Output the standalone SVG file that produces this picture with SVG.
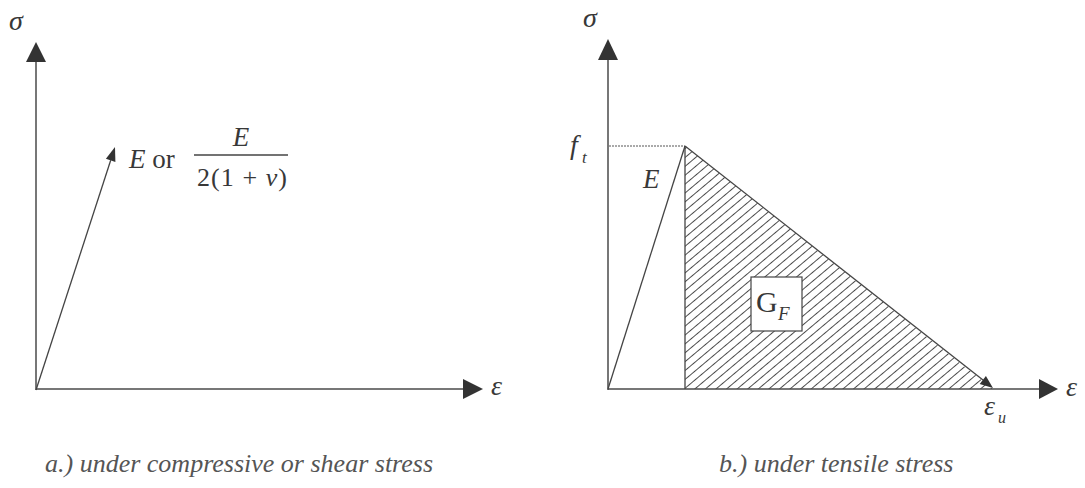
<svg xmlns="http://www.w3.org/2000/svg" width="1085" height="488" viewBox="0 0 1085 488">
  <defs>
    <style>
      .ax { stroke: #4a4a4a; stroke-width: 1.5; fill: none; }
      .ln { stroke: #444; stroke-width: 1.3; fill: none; }
      .hd { fill: #333; stroke: none; }
      text { font-family: 'Liberation Serif', 'Times New Roman', serif; fill: #383838; }
      .i { font-style: italic; }
      .cap { font-style: italic; font-size: 26px; fill: #555; }
    </style>
    <pattern id="hatch" patternUnits="userSpaceOnUse" width="6.8" height="10" patternTransform="rotate(50)">
      <line x1="3.4" y1="-1" x2="3.4" y2="11" stroke="#4a4a4a" stroke-width="1"/>
    </pattern>
    <clipPath id="tri">
      <polygon points="685,146 685,389 993,389"/>
    </clipPath>
  </defs>
  <rect width="1085" height="488" fill="#ffffff"/>

  <g id="connectors">
    <line class="ax" x1="36" y1="390" x2="36" y2="60"/>
    <polygon class="hd" points="36,42 26,62 46,62"/>
    <line class="ax" x1="36" y1="389" x2="465" y2="389"/>
    <polygon class="hd" points="483,389 463,379 463,399"/>
    <line class="ln" x1="36" y1="390" x2="110.7" y2="160.3"/>
    <polygon class="hd" points="115,147 115.4,161.9 105.9,158.8"/>

    <line class="ax" x1="608" y1="390" x2="608" y2="58"/>
    <polygon class="hd" points="608,39 598,60 618,60"/>
    <line class="ax" x1="608" y1="389" x2="1040" y2="389"/>
    <polygon class="hd" points="1058,389 1039,379 1039,399"/>
  </g>

  <g id="hatched-area">
    <rect x="685" y="146" width="310" height="244" fill="url(#hatch)" clip-path="url(#tri)"/>
  </g>

  <g id="tension-curve">
    <line x1="609" y1="146" x2="685" y2="146" stroke="#555" stroke-width="1" stroke-dasharray="2,1"/>
    <line class="ln" x1="608" y1="389" x2="685" y2="146"/>
    <line class="ln" x1="685" y1="146" x2="685" y2="389"/>
    <line class="ln" x1="685" y1="146" x2="983" y2="380"/>
    <polygon class="hd" points="993,388 979.7,383.9 985.9,376.1"/>
  </g>

  <g id="label-sigma-a"><text class="i" x="9" y="30" font-size="28">σ</text></g>
  <g id="label-eps-a"><text class="i" x="491" y="395" font-size="28">ε</text></g>
  <g id="label-modulus">
    <text x="129" y="168" font-size="27"><tspan font-style="italic">E</tspan> or</text>
    <text class="i" x="241" y="146" font-size="27" text-anchor="middle">E</text>
    <line x1="194" y1="155" x2="288" y2="155" stroke="#444" stroke-width="1.3"/>
    <text x="197" y="186" font-size="26" textLength="90" lengthAdjust="spacing">2(1 + <tspan font-style="italic">ν</tspan>)</text>
  </g>

  <g id="label-sigma-b"><text class="i" x="583" y="27" font-size="28">σ</text></g>
  <g id="label-ft">
    <text class="i" x="570" y="154" font-size="28">f</text>
    <text class="i" x="582" y="163" font-size="17">t</text>
  </g>
  <g id="label-E-b"><text class="i" x="643" y="188" font-size="27">E</text></g>
  <g id="node-GF">
    <rect x="751" y="277" width="51" height="54" fill="#ffffff" stroke="#444" stroke-width="1.2"/>
    <text x="756" y="312" font-size="30">G</text>
    <text class="i" x="778" y="320" font-size="19">F</text>
  </g>
  <g id="label-eps-b"><text class="i" x="1066" y="396" font-size="28">ε</text></g>
  <g id="label-eps-u">
    <text class="i" x="984" y="415" font-size="28">ε</text>
    <text class="i" x="998" y="423" font-size="16">u</text>
  </g>

  <g id="caption-a"><text class="cap" x="45" y="472">a.) under compressive or shear stress</text></g>
  <g id="caption-b"><text class="cap" x="719" y="472">b.) under tensile stress</text></g>
</svg>
